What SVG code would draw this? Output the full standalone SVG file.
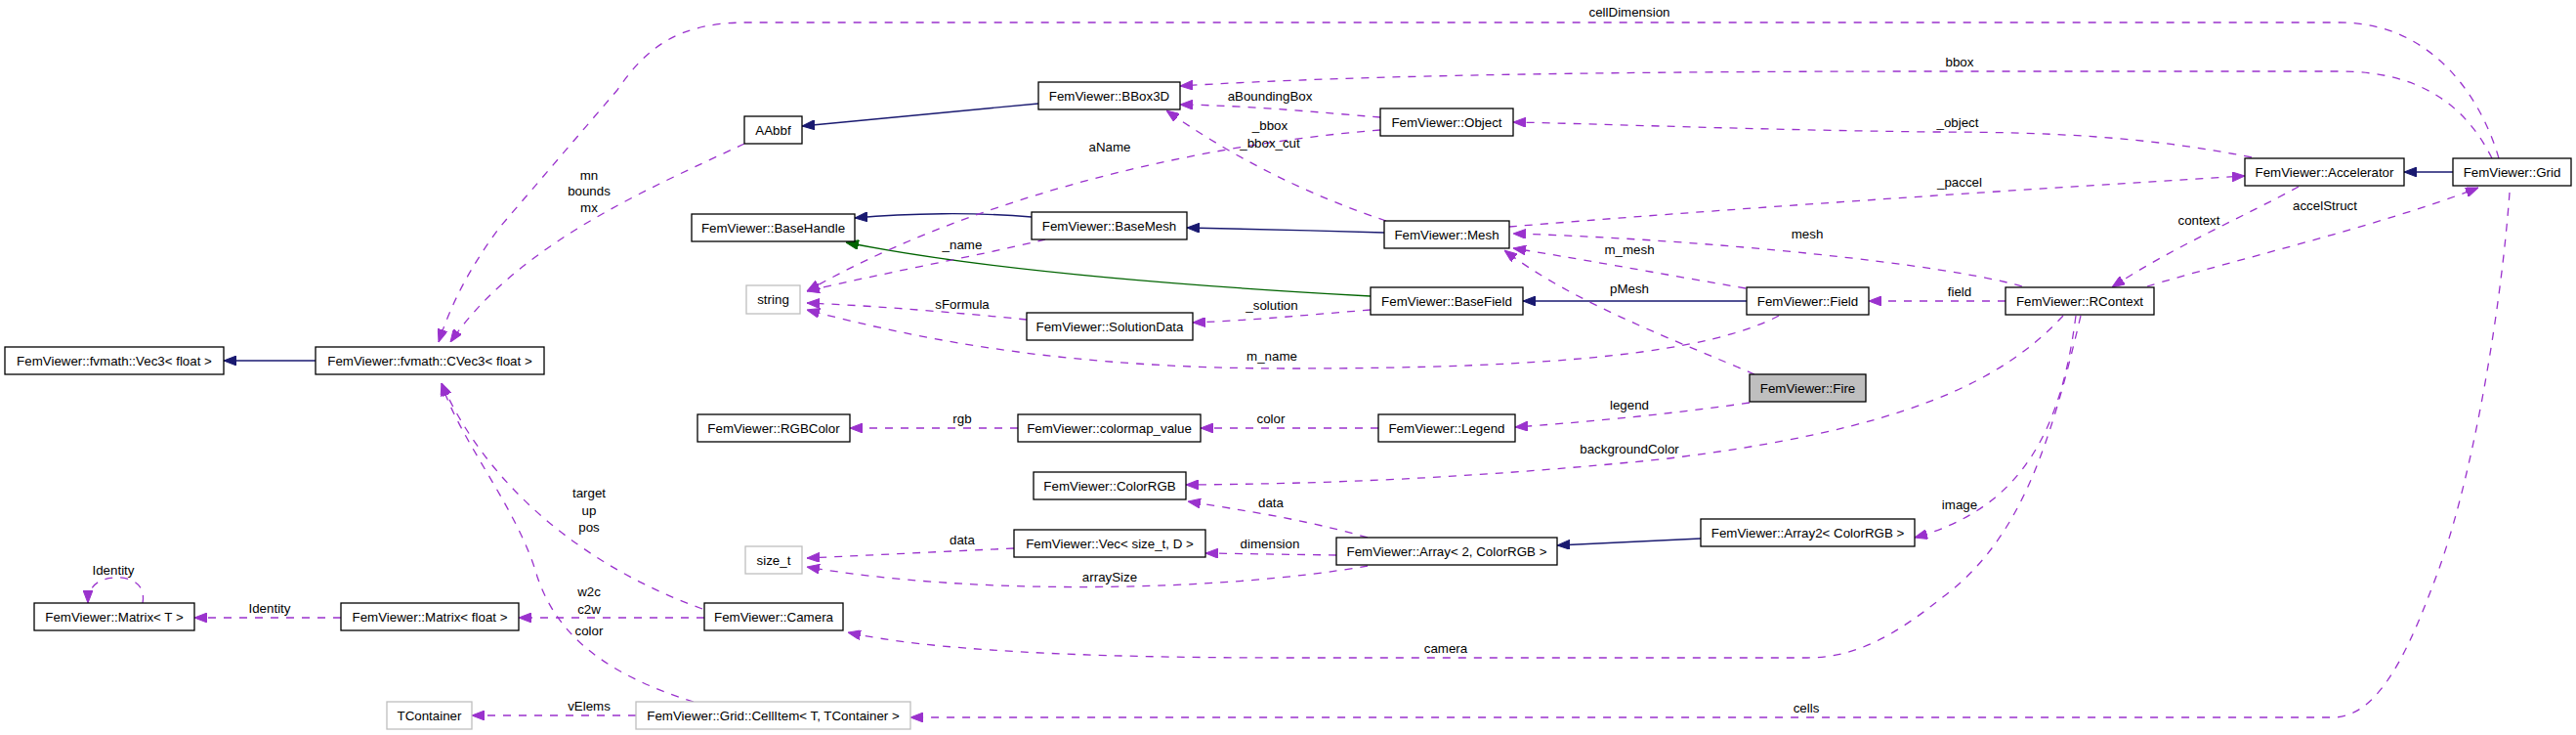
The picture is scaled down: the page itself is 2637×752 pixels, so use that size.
<svg xmlns="http://www.w3.org/2000/svg" width="2637" height="752" viewBox="0 0 2637 752">
<style>
.node rect{fill:#fff;stroke:#000;stroke-width:1.3}
.node.ext rect{stroke:#bfbfbf}
.node.cur rect{fill:#bfbfbf}
text{font-family:"Liberation Sans",Arial,sans-serif;font-size:13.33px;text-anchor:middle;fill:#000}
.e{fill:none;stroke-width:1.3}
.d{stroke:#9a32cd;stroke-dasharray:8,8;marker-end:url(#ap)}
.i{stroke:#191970;marker-end:url(#an)}
.g{stroke:#006400;marker-end:url(#ag)}
</style>
<defs>
<marker id="ap" viewBox="0 0 13 10" refX="13" refY="5" markerWidth="13" markerHeight="10" markerUnits="userSpaceOnUse" orient="auto"><path d="M0,0L13,5L0,10z" fill="#9a32cd" stroke="#9a32cd" stroke-dasharray="none"/></marker>
<marker id="an" viewBox="0 0 13 10" refX="13" refY="5" markerWidth="13" markerHeight="10" markerUnits="userSpaceOnUse" orient="auto"><path d="M0,0L13,5L0,10z" fill="#191970" stroke="#191970"/></marker>
<marker id="ag" viewBox="0 0 13 10" refX="13" refY="5" markerWidth="13" markerHeight="10" markerUnits="userSpaceOnUse" orient="auto"><path d="M0,0L13,5L0,10z" fill="#006400" stroke="#006400"/></marker>
</defs>
<rect width="2637" height="752" fill="#fff"/>
<g id="edges">
<path class="e i" d="M323,369 L229,369"/>
<path class="e i" d="M1063,106 L821,129"/>
<path class="e i" d="M1056,222 C1000,217 930,218 875,223"/>
<path class="e i" d="M1417,238 C1350,236 1280,234 1215,233"/>
<path class="e i" d="M1788,308 L1559,308"/>
<path class="e i" d="M2511,176 L2461,176"/>
<path class="e i" d="M1741,551 L1594,558"/>
<path class="e g" d="M1403,303 C1200,292 1000,275 866,248"/>
<path class="e d" d="M2558,162 C2540,100 2490,23 2395,23 L765,23 C695,23 662,48 632,92 L512,232 C482,272 462,310 449,350"/>
<path class="e d" d="M2551,162 C2525,110 2480,73 2395,73 L1980,73 C1700,73 1400,76 1208,88"/>
<path class="e d" d="M1413,120 C1350,115 1280,108 1208,107"/>
<path class="e d" d="M1419,226 C1340,200 1260,160 1194,113"/>
<path class="e d" d="M1413,133 C1200,150 980,210 826,298"/>
<path class="e d" d="M1070,245 C1000,262 900,280 826,298"/>
<path class="e d" d="M1051,327 C980,320 900,313 826,310"/>
<path class="e d" d="M1821,323 C1750,360 1600,377 1320,377 C1100,377 950,350 826,317"/>
<path class="e d" d="M1403,317 C1340,322 1280,328 1221,330"/>
<path class="e d" d="M2305,161 C2200,140 2100,135 1980,135 C1800,133 1650,127 1549,125"/>
<path class="e d" d="M1545,232 C1750,215 2050,195 2298,180"/>
<path class="e d" d="M2070,293 C1990,270 1750,245 1549,239"/>
<path class="e d" d="M1787,295 C1700,280 1600,262 1549,254"/>
<path class="e d" d="M1796,383 C1720,350 1610,310 1540,256"/>
<path class="e d" d="M2353,191 C2300,220 2220,255 2162,294"/>
<path class="e d" d="M2198,293 C2280,268 2440,230 2537,192"/>
<path class="e d" d="M2053,308 L1913,308"/>
<path class="e d" d="M2112,323 C2050,390 1950,440 1700,470 C1500,490 1350,495 1214,496"/>
<path class="e d" d="M2125,323 C2110,440 2070,520 1960,550"/>
<path class="e d" d="M2130,323 C2100,450 2070,550 1990,610 C1940,650 1900,673 1850,673 L1320,673 C1100,673 950,665 868,647"/>
<path class="e d" d="M2569,197 C2560,320 2530,500 2490,600 C2460,680 2430,734 2388,734 L932,734"/>
<path class="e d" d="M1791,412 C1700,425 1620,432 1551,437"/>
<path class="e d" d="M1411,438 L1229,438"/>
<path class="e d" d="M1042,438 L870,438"/>
<path class="e d" d="M1400,550 C1330,530 1270,522 1216,513"/>
<path class="e d" d="M1368,568 L1234,566"/>
<path class="e d" d="M1400,579 C1250,605 1000,610 826,580"/>
<path class="e d" d="M1038,561 L826,571"/>
<path class="e d" d="M721,632 L531,632"/>
<path class="e d" d="M719,623 C600,580 500,500 452,392"/>
<path class="e d" d="M710,718 C620,690 570,650 550,590 C530,520 470,450 452,392"/>
<path class="e d" d="M762,147 C660,195 530,250 461,350"/>
<path class="e d" d="M349,632 L199,632"/>
<path class="e d" d="M146,617 C150,595 130,590 118,591 C100,592 90,600 90,617"/>
<path class="e d" d="M651,732 L483,732"/>
</g>
<g id="edge-labels">
<text x="1668" y="17">cellDimension</text>
<text x="2006" y="68">bbox</text>
<text x="1300" y="103">aBoundingBox</text>
<text x="1300" y="133">_bbox</text>
<text x="1300" y="151">_bbox_cut</text>
<text x="2004" y="130">_object</text>
<text x="1136" y="155">aName</text>
<text x="2006" y="191">_paccel</text>
<text x="603" y="184">mn</text>
<text x="603" y="200">bounds</text>
<text x="603" y="217">mx</text>
<text x="2251" y="230">context</text>
<text x="2380" y="215">accelStruct</text>
<text x="1850" y="244">mesh</text>
<text x="985" y="255">_name</text>
<text x="1668" y="260">m_mesh</text>
<text x="1668" y="300">pMesh</text>
<text x="2006" y="303">field</text>
<text x="985" y="316">sFormula</text>
<text x="1302" y="317">_solution</text>
<text x="1302" y="369">m_name</text>
<text x="1668" y="419">legend</text>
<text x="985" y="433">rgb</text>
<text x="1301" y="433">color</text>
<text x="1668" y="464">backgroundColor</text>
<text x="1301" y="519">data</text>
<text x="2006" y="521">image</text>
<text x="985" y="557">data</text>
<text x="1300" y="561">dimension</text>
<text x="1136" y="595">arraySize</text>
<text x="603" y="509">target</text>
<text x="603" y="527">up</text>
<text x="603" y="544">pos</text>
<text x="116" y="588">Identity</text>
<text x="276" y="627">Identity</text>
<text x="603" y="610">w2c</text>
<text x="603" y="628">c2w</text>
<text x="603" y="650">color</text>
<text x="1480" y="668">camera</text>
<text x="603" y="727">vElems</text>
<text x="1849" y="729">cells</text>
</g>
<g id="n_vec3" class="node"><rect x="5" y="355" width="224" height="28"/><text x="117" y="374">FemViewer::fvmath::Vec3&lt; float &gt;</text></g>
<g id="n_cvec3" class="node"><rect x="323" y="355" width="234" height="28"/><text x="440" y="374">FemViewer::fvmath::CVec3&lt; float &gt;</text></g>
<g id="n_aabbf" class="node"><rect x="762" y="119" width="59" height="28"/><text x="791.5" y="138">AAbbf</text></g>
<g id="n_bbox3d" class="node"><rect x="1063" y="84" width="145" height="28"/><text x="1135.5" y="103">FemViewer::BBox3D</text></g>
<g id="n_basehandle" class="node"><rect x="708" y="219" width="167" height="28"/><text x="791.5" y="238">FemViewer::BaseHandle</text></g>
<g id="n_basemesh" class="node"><rect x="1056" y="217" width="159" height="28"/><text x="1135.5" y="236">FemViewer::BaseMesh</text></g>
<g id="n_object" class="node"><rect x="1413" y="111" width="136" height="28"/><text x="1481" y="130">FemViewer::Object</text></g>
<g id="n_mesh" class="node"><rect x="1417" y="226" width="128" height="28"/><text x="1481" y="245">FemViewer::Mesh</text></g>
<g id="n_accel" class="node"><rect x="2298" y="162" width="163" height="28"/><text x="2379.5" y="181">FemViewer::Accelerator</text></g>
<g id="n_grid" class="node"><rect x="2511" y="162" width="121" height="28"/><text x="2571.5" y="181">FemViewer::Grid</text></g>
<g id="n_string" class="node ext"><rect x="764" y="292" width="55" height="29"/><text x="791.5" y="311">string</text></g>
<g id="n_soldata" class="node"><rect x="1051" y="320" width="170" height="28"/><text x="1136" y="339">FemViewer::SolutionData</text></g>
<g id="n_rgbcolor" class="node"><rect x="714" y="424" width="156" height="28"/><text x="792" y="443">FemViewer::RGBColor</text></g>
<g id="n_colormap" class="node"><rect x="1042" y="424" width="187" height="28"/><text x="1135.5" y="443">FemViewer::colormap_value</text></g>
<g id="n_colorrgb" class="node"><rect x="1058" y="483" width="156" height="28"/><text x="1136" y="502">FemViewer::ColorRGB</text></g>
<g id="n_basefield" class="node"><rect x="1403" y="294" width="156" height="28"/><text x="1481" y="313">FemViewer::BaseField</text></g>
<g id="n_field" class="node"><rect x="1788" y="294" width="125" height="28"/><text x="1850.5" y="313">FemViewer::Field</text></g>
<g id="n_fire" class="node cur"><rect x="1791" y="383" width="119" height="28"/><text x="1850.5" y="402">FemViewer::Fire</text></g>
<g id="n_legend" class="node"><rect x="1411" y="424" width="140" height="28"/><text x="1481" y="443">FemViewer::Legend</text></g>
<g id="n_rcontext" class="node"><rect x="2053" y="294" width="152" height="28"/><text x="2129" y="313">FemViewer::RContext</text></g>
<g id="n_matrixT" class="node"><rect x="35" y="617" width="164" height="28"/><text x="117" y="636">FemViewer::Matrix&lt; T &gt;</text></g>
<g id="n_matrixf" class="node"><rect x="349" y="617" width="182" height="28"/><text x="440" y="636">FemViewer::Matrix&lt; float &gt;</text></g>
<g id="n_tcontainer" class="node ext"><rect x="396" y="718" width="87" height="28"/><text x="439.5" y="737">TContainer</text></g>
<g id="n_sizet" class="node ext"><rect x="763" y="559" width="58" height="28"/><text x="792" y="578">size_t</text></g>
<g id="n_vec" class="node"><rect x="1038" y="542" width="196" height="28"/><text x="1136" y="561">FemViewer::Vec&lt; size_t, D &gt;</text></g>
<g id="n_camera" class="node"><rect x="721" y="617" width="142" height="28"/><text x="792" y="636">FemViewer::Camera</text></g>
<g id="n_cellitem" class="node ext"><rect x="651" y="718" width="281" height="28"/><text x="791.5" y="737">FemViewer::Grid::CellItem&lt; T, TContainer &gt;</text></g>
<g id="n_array" class="node"><rect x="1368" y="550" width="226" height="28"/><text x="1481" y="569">FemViewer::Array&lt; 2, ColorRGB &gt;</text></g>
<g id="n_array2" class="node"><rect x="1741" y="531" width="219" height="28"/><text x="1850.5" y="550">FemViewer::Array2&lt; ColorRGB &gt;</text></g>
</svg>
